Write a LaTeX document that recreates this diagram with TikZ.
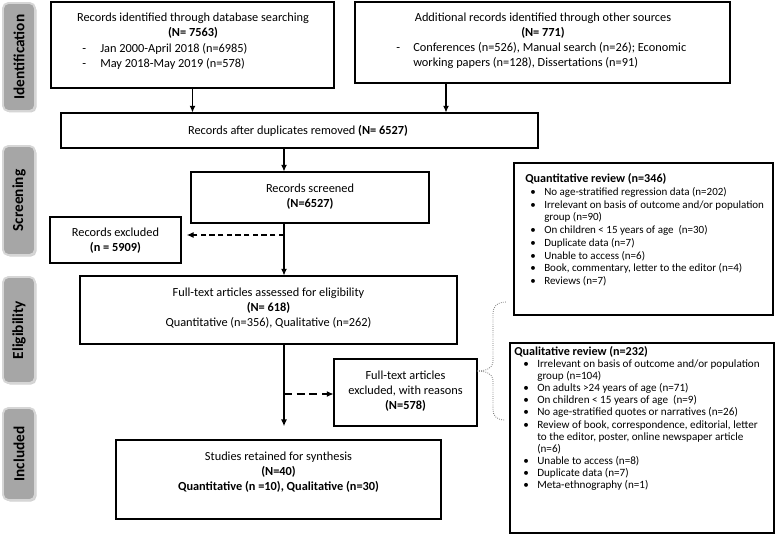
\documentclass[tikz,border=0pt]{standalone}
\usepackage{fontspec}
\setmainfont{Carlito}
\usetikzlibrary{arrows.meta}
\definecolor{labelgray}{HTML}{A6A6A6}
\definecolor{labeledge}{HTML}{D6D6D6}
\definecolor{bracegray}{HTML}{707070}
\newcommand{\mainsz}{\fontsize{9.25}{11.25}\selectfont}
\newcommand{\quantsz}{\fontsize{8.25}{9.56}\selectfont}
\newcommand{\qualsz}{\fontsize{8.35}{9.1}\selectfont}
\newcommand{\headsz}{\fontsize{9.1}{9.56}\selectfont\bfseries}
\newcommand{\phasesz}{\fontsize{11.5}{13}\selectfont}
\newcommand{\bul}[1]{\makebox[#1][l]{\textbullet}}
\begin{document}
\begin{tikzpicture}[x=0.75pt,y=-0.75pt,
  box/.style={draw=black, line width=0.8pt, inner sep=0pt, rectangle},
  txt/.style={inner sep=0pt, align=center, font=\mainsz},
  ltxt/.style={inner sep=0pt, align=left, font=\mainsz},
  stxt/.style={inner sep=0pt, align=left},
  arr/.style={line width=0.8pt, -{Latex[length=5pt,width=4.5pt]}},
  darr/.style={arr, dash pattern=on 4pt off 2.5pt},
  darrb/.style={arr, dash pattern=on 6pt off 3.5pt},
  phase/.style={rounded corners=4pt, fill=labelgray, draw=labeledge, line width=1.4pt, inner sep=0pt, minimum width=24pt},
  phshadow/.style={rounded corners=4pt, fill=black!18, draw=none, inner sep=0pt, minimum width=24pt},
  phasetxt/.style={rotate=90, font=\phasesz\bfseries, text=black, inner sep=0pt},
  brace/.style={draw=bracegray, line width=0.6pt, densely dotted}
]
\useasboundingbox (0,0) rectangle (779,535);

% phase labels
\node[phshadow, minimum height=81pt] (ids) at (20.5,58.5) {};
\node[phase, minimum height=81pt] (idl) at (19,57) {};
\node[phasetxt] (idt) at (idl.center) {Identification};
\node[phshadow, minimum height=81.75pt] (scs) at (20.5,202) {};
\node[phase, minimum height=81.75pt] (scl) at (19,200.5) {};
\node[phasetxt] (sct) at (scl.center) {Screening};
\node[phshadow, minimum height=79.5pt] (els) at (20.5,331.5) {};
\node[phase, minimum height=79.5pt] (ell) at (19,330) {};
\node[phasetxt] (elt) at (ell.center) {Eligibility};
\node[phshadow, minimum height=69pt] (ins) at (20.5,455.5) {};
\node[phase, minimum height=69pt] (inl) at (19,454) {};
\node[phasetxt] (int) at (inl.center) {Included};

% boxes
\node[box, minimum width=212.25pt, minimum height=64.5pt] (db) at (192.5,45) {};
\node[box, minimum width=281.25pt, minimum height=60.75pt] (other) at (542.5,42.5) {};
\node[box, minimum width=357.75pt, minimum height=26.25pt] (dup) at (299.5,130.5) {};
\node[box, minimum width=178.5pt, minimum height=38.25pt] (scr) at (310,197.5) {};
\node[box, minimum width=98.25pt, minimum height=34.5pt] (excl) at (115.5,240) {};
\node[box, minimum width=282.75pt, minimum height=51pt] (full) at (268.5,310) {};
\node[box, minimum width=107.25pt, minimum height=50.25pt] (ftex) at (405.5,392.5) {};
\node[box, minimum width=243.75pt, minimum height=59.25pt] (stud) at (278.5,479.5) {};
\node[box, minimum width=194.25pt, minimum height=114pt] (quant) at (643.5,239) {};
\node[box, minimum width=198pt, minimum height=142.5pt] (qual) at (642,438) {};

% texts
\node[txt] (dbt) at (193,25.5) {Records identified through database searching\\\textbf{(N= 7563)}};
\node[ltxt, anchor=west] (dbl) at (82,56) {\makebox[13.5pt][l]{-}Jan 2000-April 2018 (n=6985)\\\makebox[13.5pt][l]{-}May 2018-May 2019 (n=578)};
\node[txt] (ott) at (543,25.5) {Additional records identified through other sources\\\textbf{(N= 771)}};
\node[ltxt, anchor=west] (otl) at (396,56) {\makebox[12.75pt][l]{-}Conferences (n=526), Manual search (n=26); Economic\\\hspace*{12.75pt}working papers (n=128), Dissertations (n=91)};
\node[txt] (dupt) at (298,130.5) {Records after duplicates removed \textbf{(N= 6527)}};
\node[txt] (scrt) at (310,197) {Records screened\\\textbf{(N=6527)}};
\node[txt] (exclt) at (115.5,240.5) {Records excluded\\\textbf{(n = 5909)}};
\node[txt] (fullt) at (268.5,308) {Full-text articles assessed for eligibility\\\textbf{(N= 618)}\\Quantitative (n=356), Qualitative (n=262)};
\node[txt] (ftext) at (405.5,391) {Full-text articles\\excluded, with reasons\\\textbf{(N=578)}};
\node[txt] (studt) at (278.5,472.5) {Studies retained for synthesis\\\textbf{(N=40)}\\\textbf{Quantitative (n =10), Qualitative (n=30)}};
\node[stxt, font=\quantsz, anchor=west] (quantt) at (525,230) {{\headsz Quantitative review (n=346)}\\
\hspace*{3.75pt}\bul{10.5pt}No age-stratified regression data (n=202)\\
\hspace*{3.75pt}\bul{10.5pt}Irrelevant on basis of outcome and/or population\\
\hspace*{14.25pt}group (n=90)\\
\hspace*{3.75pt}\bul{10.5pt}On children < 15 years of age~~(n=30)\\
\hspace*{3.75pt}\bul{10.5pt}Duplicate data (n=7)\\
\hspace*{3.75pt}\bul{10.5pt}Unable to access (n=6)\\
\hspace*{3.75pt}\bul{10.5pt}Book, commentary, letter to the editor (n=4)\\
\hspace*{3.75pt}\bul{10.5pt}Reviews (n=7)};
\node[stxt, font=\qualsz, anchor=west] (qualt) at (514,418.5) {{\headsz Qualitative review (n=232)}\\
\hspace*{6.75pt}\bul{10.5pt}Irrelevant on basis of outcome and/or population\\
\hspace*{17.25pt}group (n=104)\\
\hspace*{6.75pt}\bul{10.5pt}On adults >24 years of age (n=71)\\
\hspace*{6.75pt}\bul{10.5pt}On children < 15 years of age~~(n=9)\\
\hspace*{6.75pt}\bul{10.5pt}No age-stratified quotes or narratives (n=26)\\
\hspace*{6.75pt}\bul{10.5pt}Review of book, correspondence, editorial, letter\\
\hspace*{17.25pt}to the editor, poster, online newspaper article\\
\hspace*{17.25pt}(n=6)\\
\hspace*{6.75pt}\bul{10.5pt}Unable to access (n=8)\\
\hspace*{6.75pt}\bul{10.5pt}Duplicate data (n=7)\\
\hspace*{6.75pt}\bul{10.5pt}Meta-ethnography (n=1)};

% connectors
\coordinate (ox) at (446,0);
\coordinate (mx) at (284,0);
\coordinate (d1) at (284,235);
\coordinate (d2) at (284,394);
\coordinate (btip) at (477,371);
\draw[arr] (db.south) -- (db.south |- dup.north);
\draw[arr] (other.south -| ox) -- (dup.north -| ox);
\draw[arr] (dup.south -| mx) -- (scr.north -| mx);
\draw[arr] (scr.south -| mx) -- (full.north -| mx);
\draw[darr, shorten >=4pt] (d1) -- (d1 -| excl.east);
\draw[arr, shorten >=10pt] (full.south -| mx) -- (stud.north -| mx);
\draw[darrb] (d2) -- (d2 -| ftex.west);
\draw[brace] (btip) .. controls (486,371) and (493,368) .. (493,362) -- (493,314)
  .. controls (493,306) and (497,302) .. (507,302);
\draw[brace] (btip) .. controls (486,371) and (493,374) .. (493,380) -- (493,410)
  .. controls (493,416) and (497,420) .. (505,420);
\end{tikzpicture}
\end{document}
